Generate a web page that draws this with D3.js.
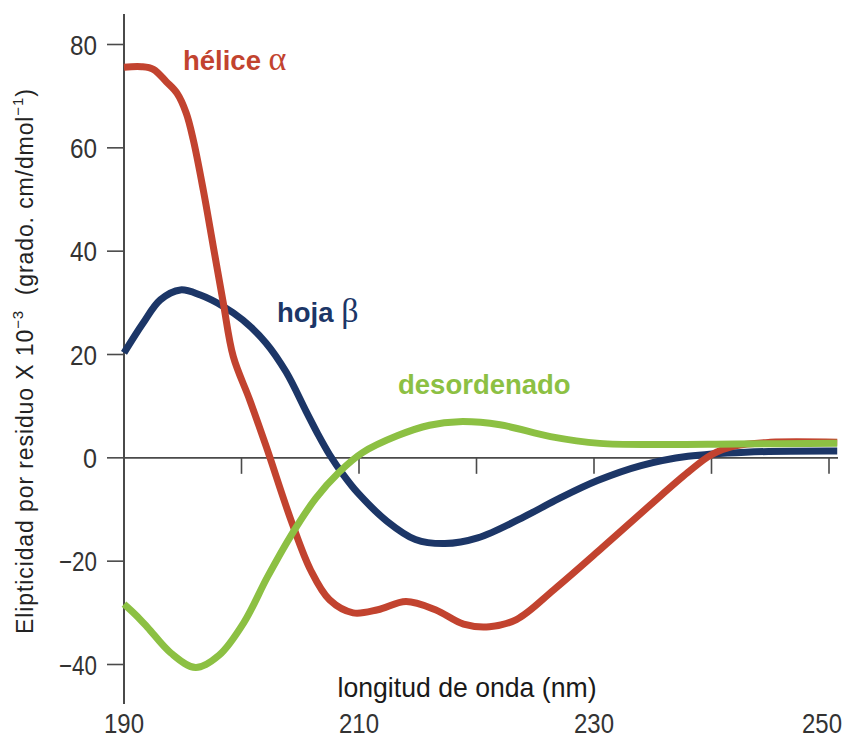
<!DOCTYPE html>
<html>
<head>
<meta charset="utf-8">
<script src="https://cdn.jsdelivr.net/npm/d3@7"></script>
<style>
  html, body { margin: 0; padding: 0; background: #ffffff; }
  svg { display: block; }
</style>
</head>
<body>
<svg id="chart" width="849" height="742"></svg>
<script>
// ---- data (wavelength in nm, ellipticity per residue x 10^-3) ----
const helixNm = [190, 191.5, 192.5, 193.6, 194.5, 195.3, 195.9, 196.75, 197.6, 198.45, 199.3, 200.7, 202.1, 204.25, 205.9, 207.5, 209.5, 211.6, 214, 216.5, 218.9, 221.1, 223.4, 226.6, 230.7, 234.8, 238, 240, 242, 245, 250.7];
const helixVal = [75.6, 75.7, 75.2, 72.8, 70.6, 66.7, 61.5, 51.8, 40.9, 30, 19.6, 11.2, 2.2, -12.3, -21.8, -27.5, -30, -29.4, -27.8, -29.4, -32.2, -32.7, -31.3, -25.5, -17.4, -9.1, -2.8, 0.6, 2.3, 3.0, 3];

const sheetNm = [190, 191.6, 193.1, 194.8, 196.5, 198.45, 200.1, 202.1, 203.8, 205.5, 206.5, 207.5, 208.7, 209.9, 212.4, 214.8, 217.3, 220.1, 223.8, 227, 230.3, 234, 238, 242.9, 250.7];
const sheetVal = [20.3, 26, 30.6, 32.5, 31.5, 29.3, 26.7, 22.2, 16.6, 9.0, 4.6, 0.6, -3.4, -6.8, -12.3, -15.8, -16.6, -15.5, -11.7, -7.9, -4.4, -1.5, 0.3, 1.1, 1.3];

const coilNm = [190, 191, 192, 194, 196.1, 198.1, 200.2, 202.2, 204.25, 206.3, 208.3, 210.3, 213.3, 216, 218.5, 222, 226.3, 230.5, 236, 242, 250.7];
const coilVal = [-28.3, -30.4, -32.8, -37.8, -40.6, -38.2, -31.9, -23.1, -14.9, -7.9, -2.8, 1, 4.3, 6.3, 7, 6.4, 4.1, 2.8, 2.6, 2.7, 2.8];

const xTickValues = [190, 200, 210, 220, 230, 240, 250];
const xTickLabels = ["190", "210", "230", "250"];
const yTickValues = [-40, -20, 0, 20, 40, 60, 80];
const yTickLabels = ["\u221240", "\u221220", "0", "20", "40", "60", "80"];

const seriesNames = ["hoja", "hélice", "desordenado"];
const seriesGreek = ["\u03b2", "\u03b1", ""];

// ---- drawing ----
const svg = d3.select("#chart");
const x = d3.scaleLinear().domain([190, 250]).range([124, 829]);
const y = d3.scaleLinear().domain([-40, 80]).range([664.5, 44.5]);

const axisColor = "#4a4a4a";
const textColor = "#333333";

// y axis line
svg.append("line")
  .attr("x1", x(190)).attr("x2", x(190))
  .attr("y1", 14).attr("y2", 704)
  .attr("stroke", axisColor).attr("stroke-width", 2);

// zero line (x axis)
svg.append("line")
  .attr("x1", x(190)).attr("x2", 838)
  .attr("y1", y(0)).attr("y2", y(0))
  .attr("stroke", axisColor).attr("stroke-width", 1.6);

// y ticks
svg.selectAll(".ytick").data(yTickValues).enter().append("line")
  .attr("x1", 107).attr("x2", x(190))
  .attr("y1", d => y(d)).attr("y2", d => y(d))
  .attr("stroke", axisColor).attr("stroke-width", 1.6);

// x ticks (downward from zero line)
svg.selectAll(".xtick").data(xTickValues.slice(1)).enter().append("line")
  .attr("x1", d => x(d)).attr("x2", d => x(d))
  .attr("y1", y(0)).attr("y2", y(0) + 16)
  .attr("stroke", axisColor).attr("stroke-width", 1.6);

// y tick labels
svg.selectAll(".ylab").data(yTickValues).enter().append("text")
  .attr("x", 97)
  .attr("y", d => y(d) + 10)
  .attr("text-anchor", "end")
  .attr("font-family", "Liberation Sans, Arial, sans-serif")
  .attr("font-size", 28)
  .attr("fill", textColor)
  .attr("textLength", (d, i) => yTickLabels[i].length === 1 ? 14 : (yTickLabels[i].length === 2 ? 27 : 38))
  .attr("lengthAdjust", "spacingAndGlyphs")
  .text((d, i) => yTickLabels[i]);

// x tick labels
svg.selectAll(".xlab").data(xTickLabels).enter().append("text")
  .attr("x", d => Math.min(x(+d), 822))
  .attr("y", 733)
  .attr("text-anchor", "middle")
  .attr("font-family", "Liberation Sans, Arial, sans-serif")
  .attr("font-size", 27)
  .attr("fill", textColor)
  .attr("textLength", 40)
  .attr("lengthAdjust", "spacingAndGlyphs")
  .text(d => d);

// x axis title
svg.append("text")
  .attr("x", 467).attr("y", 697)
  .attr("text-anchor", "middle")
  .attr("font-family", "Liberation Sans, Arial, sans-serif")
  .attr("font-size", 28)
  .attr("fill", "#1a1a1a")
  .attr("textLength", 259)
  .attr("lengthAdjust", "spacingAndGlyphs")
  .text("longitud de onda (nm)");

// y axis title
const yt = svg.append("text")
  .attr("transform", "translate(33,634) rotate(-90)")
  .attr("text-anchor", "start")
  .attr("font-family", "Liberation Sans, Arial, sans-serif")
  .attr("font-size", 23)
  .attr("letter-spacing", 0.9)
  .attr("fill", "#222222");
yt.append("tspan").text("Elipticidad por residuo X 10");
yt.append("tspan").attr("dy", -10).attr("font-size", 15).text("\u22123");
yt.append("tspan").attr("dy", 10).text("\u00a0 (grado. cm/dmol");
yt.append("tspan").attr("dy", -10).attr("font-size", 15).text("\u22121");
yt.append("tspan").attr("dy", 10).text(")");

// curves
const line = d3.line()
  .x(d => x(d[0]))
  .y(d => y(d[1]))
  .curve(d3.curveCatmullRom.alpha(0.5));

const series = [
  { nm: sheetNm, val: sheetVal, color: "#1c3667" },
  { nm: helixNm, val: helixVal, color: "#c2432f" },
  { nm: coilNm, val: coilVal, color: "#8cc043" }
];

series.forEach(s => {
  const pts = s.nm.map((n, i) => [n, s.val[i]]);
  svg.append("path")
    .attr("d", line(pts))
    .attr("fill", "none")
    .attr("stroke", s.color)
    .attr("stroke-width", 7)
    .attr("stroke-linejoin", "round")
    .attr("stroke-linecap", "butt");
});

// series labels
const labelPos = [
  { x: 277, y: 322, color: "#1c3667" },
  { x: 183, y: 70, color: "#c2432f" },
  { x: 398, y: 394, color: "#8cc043" }
];
seriesNames.forEach((name, i) => {
  const t = svg.append("text")
    .attr("x", labelPos[i].x).attr("y", labelPos[i].y)
    .attr("font-family", "Liberation Sans, Arial, sans-serif")
    .attr("font-weight", "bold")
    .attr("font-size", 27.5)
    .attr("fill", labelPos[i].color);
  t.append("tspan").text(name);
  if (seriesGreek[i]) {
    t.append("tspan").text("\u00a0");
    t.append("tspan")
      .attr("font-family", "Liberation Serif, DejaVu Serif, serif")
      .attr("font-weight", "normal")
      .attr("font-size", 34)
      .text(seriesGreek[i]);
  }
});
</script>
</body>
</html>
